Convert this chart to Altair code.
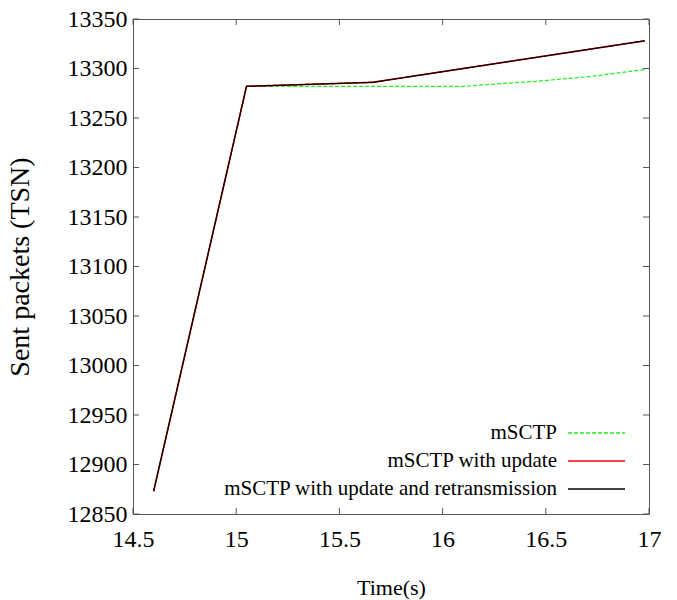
import altair as alt
import pandas as pd

# --- data ---
series_names = ["mSCTP", "mSCTP with update", "mSCTP with update and retransmission"]
series_colors = ["#22ee22", "#ff0000", "#000000"]

time_m = [14.6, 15.05, 15.66, 16.1, 16.3, 16.45, 16.72, 16.98]
tsn_m = [12873, 13282, 13282, 13282, 13285, 13287, 13292, 13299]

time_u = [14.6, 15.05, 15.66, 16.98]
tsn_u = [12873, 13282, 13286, 13328]

time_r = [14.6, 15.05, 15.66, 16.98]
tsn_r = [12873, 13282, 13286, 13328]

x_ticks = [14.5, 15, 15.5, 16, 16.5, 17]
y_ticks = [12850, 12900, 12950, 13000, 13050, 13100, 13150, 13200, 13250, 13300, 13350]

rows = []
for name, ts, vs in zip(series_names, [time_m, time_u, time_r], [tsn_m, tsn_u, tsn_r]):
    for t, v in zip(ts, vs):
        rows.append({"time": t, "tsn": v, "series": name, "label": name})
df = pd.DataFrame(rows)

FONT = "Liberation Serif"
FRAME = "#555555"
W, H = 516, 495
X_DOM = [14.5, 17]
Y_DOM = [12850, 13350]

xscale = alt.Scale(domain=X_DOM, nice=False, zero=False)
yscale = alt.Scale(domain=Y_DOM, nice=False, zero=False)

# inward tick marks on all four sides (gnuplot style), 6 px long in data units
tx = (X_DOM[1] - X_DOM[0]) * 6 / W
ty = (Y_DOM[1] - Y_DOM[0]) * 6 / H
tick_rows = []
for v in x_ticks:
    tick_rows.append({"x": v, "x2": v, "y": Y_DOM[0], "y2": Y_DOM[0] + ty})
    tick_rows.append({"x": v, "x2": v, "y": Y_DOM[1], "y2": Y_DOM[1] - ty})
for v in y_ticks:
    tick_rows.append({"x": X_DOM[0], "x2": X_DOM[0] + tx, "y": v, "y2": v})
    tick_rows.append({"x": X_DOM[1], "x2": X_DOM[1] - tx, "y": v, "y2": v})
ticks_df = pd.DataFrame(tick_rows)

color_scale = alt.Scale(domain=series_names, range=series_colors)
dash_scale = alt.Scale(domain=series_names, range=[[4, 2], [1, 0], [1, 0]])
label_scale = alt.Scale(domain=series_names, range=[1, 1, 1])

# line samples (no labels), in the lower right corner of the plot
symbol_legend = alt.Legend(
    title=None, orient="bottom-right", offset=23,
    symbolType="stroke", symbolSize=3249, symbolStrokeWidth=1.5,
    labelExpr="''", labelFontSize=1, labelOffset=0,
    clipHeight=4, rowPadding=24, padding=0,
)
# labels, right-aligned, to the left of the samples
label_legend = alt.Legend(
    title=None, orient="none", legendX=399, legendY=403,
    symbolType="stroke", symbolSize=1, symbolOpacity=0, symbolStrokeWidth=0,
    labelAlign="right", labelLimit=600,
    labelFont=FONT, labelFontSize=21, labelColor="black",
    clipHeight=22, rowPadding=6, padding=0,
)

common = dict(ticks=True, tickOpacity=0, tickSize=6, offset=-6,
              domain=False, grid=False, zindex=2,
              labelFont=FONT, labelFontSize=24, labelColor="black",
              titleFont=FONT, titleColor="black", titleFontWeight="normal")

x_bottom = alt.Axis(orient="bottom", values=x_ticks, format="~g",
                    labelFlush=False, labelOverlap=False, labelPadding=13,
                    title="Time(s)", titlePadding=26, titleFontSize=22, **common)
y_left = alt.Axis(orient="left", values=y_ticks, format="d",
                  labelOverlap=False, labelPadding=6,
                  title="Sent packets (TSN)", titlePadding=33, titleFontSize=28, **common)


def line_layer(name, width, first=False):
    enc = dict(
        x=alt.X("time:Q", scale=xscale, axis=x_bottom if first else None),
        y=alt.Y("tsn:Q", scale=yscale, axis=y_left if first else None),
        color=alt.Color("series:N", scale=color_scale, legend=symbol_legend if first else None),
        strokeDash=alt.StrokeDash("series:N", scale=dash_scale,
                                  legend=symbol_legend if first else None),
        order="time:Q",
    )
    if first:
        enc["opacity"] = alt.Opacity("label:N", scale=label_scale, legend=label_legend)
    return alt.Chart(df).transform_filter(alt.datum.series == name).mark_line(
        strokeWidth=width, interpolate="linear"
    ).encode(**enc)


green = line_layer(series_names[0], 1.2, first=True)
red = line_layer(series_names[1], 1.6)
black = line_layer(series_names[2], 1.25)

tick_marks = alt.Chart(ticks_df).mark_rule(color=FRAME, strokeWidth=1).encode(
    x=alt.X("x:Q", scale=xscale, axis=None),
    x2="x2:Q",
    y=alt.Y("y:Q", scale=yscale, axis=None),
    y2="y2:Q",
)

chart = alt.layer(tick_marks, green, red, black).resolve_axis(
    x="independent", y="independent"
).properties(
    width=W, height=H,
    autosize=alt.AutoSizeParams(type="none"),
    padding={"left": 133, "top": 19, "right": 28, "bottom": 86},
    background="white",
).configure_view(
    stroke=FRAME, strokeWidth=1
).configure_axis(
    labelFont=FONT, titleFont=FONT
)

chart.save("out.html", embed_options={"renderer": "svg", "actions": False})
